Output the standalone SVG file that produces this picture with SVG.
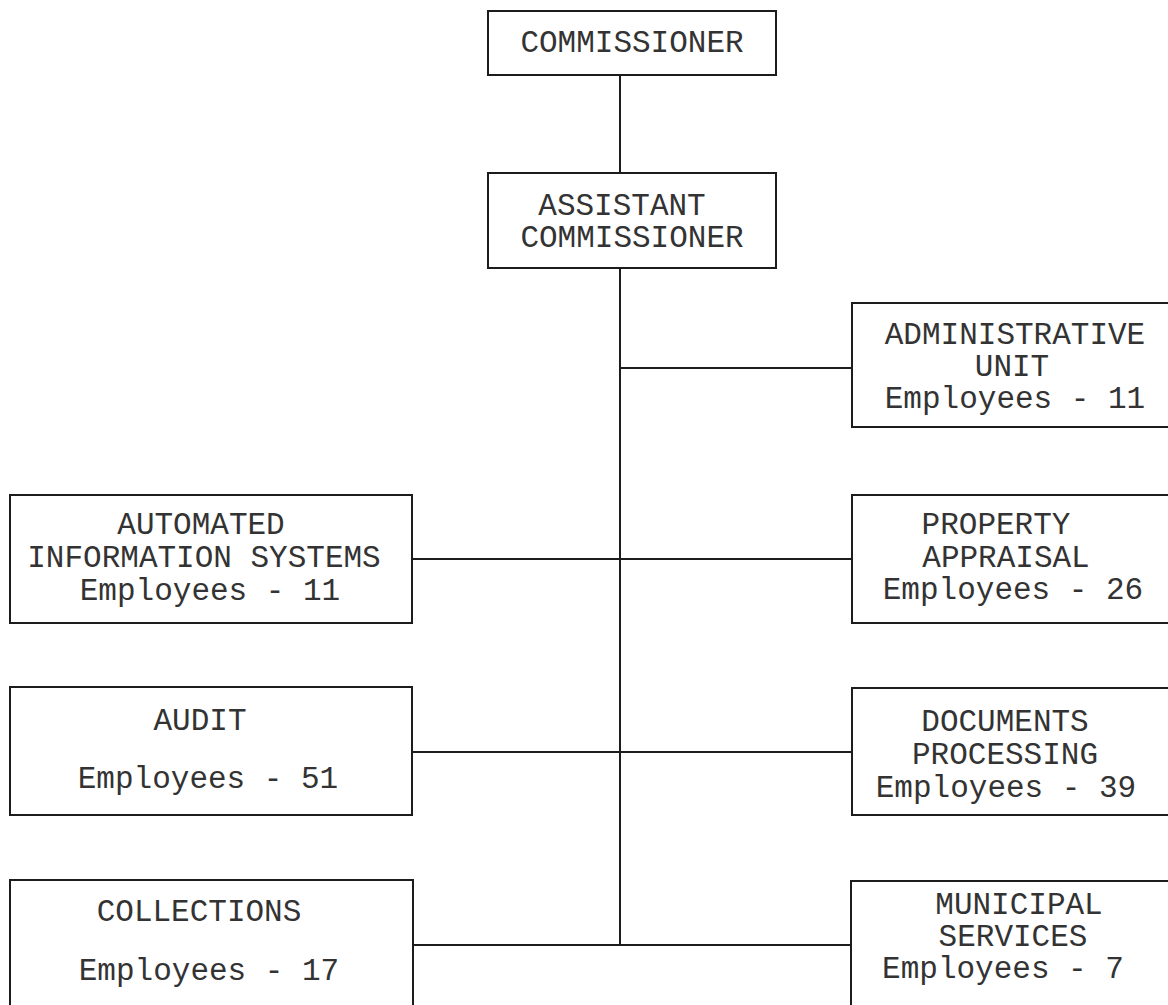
<svg xmlns="http://www.w3.org/2000/svg" width="1168" height="1005" viewBox="0 0 1168 1005">
<style>
.box{fill:#ffffff;stroke:#1c1c1c;stroke-width:2}
.ln{stroke:#1c1c1c;stroke-width:2;fill:none}
text{font-family:"Liberation Mono","DejaVu Sans Mono",monospace;font-size:31px;fill:#333333;text-anchor:middle}
</style>
<rect x="0" y="0" width="1168" height="1005" fill="#ffffff"/>
<g id="connectors">
<line class="ln" x1="620" y1="75" x2="620" y2="173"/>
<line class="ln" x1="620" y1="268" x2="620" y2="945"/>
<line class="ln" x1="620" y1="368" x2="852" y2="368"/>
<line class="ln" x1="412" y1="559" x2="852" y2="559"/>
<line class="ln" x1="412" y1="752" x2="852" y2="752"/>
<line class="ln" x1="413" y1="945" x2="851" y2="945"/>
</g>
<g id="commissioner">
<rect class="box" x="488" y="11" width="288" height="64"/>
<text x="632" y="52">COMMISSIONER</text>
</g>
<g id="assistant-commissioner">
<rect class="box" x="488" y="173" width="288" height="95"/>
<text x="622" y="215">ASSISTANT</text>
<text x="632" y="247">COMMISSIONER</text>
</g>
<g id="administrative-unit">
<rect class="box" x="852" y="303" width="326" height="124"/>
<text x="1015" y="344">ADMINISTRATIVE</text>
<text x="1012" y="376">UNIT</text>
<text x="1015" y="408">Employees - 11</text>
</g>
<g id="automated-information-systems">
<rect class="box" x="10" y="495" width="402" height="128"/>
<text x="201" y="534">AUTOMATED</text>
<text x="204" y="567">INFORMATION SYSTEMS</text>
<text x="210" y="600">Employees - 11</text>
</g>
<g id="property-appraisal">
<rect class="box" x="852" y="495" width="326" height="128"/>
<text x="996" y="534">PROPERTY</text>
<text x="1006" y="567">APPRAISAL</text>
<text x="1013" y="599">Employees - 26</text>
</g>
<g id="audit">
<rect class="box" x="10" y="687" width="402" height="128"/>
<text x="200" y="730">AUDIT</text>
<text x="208" y="788">Employees - 51</text>
</g>
<g id="documents-processing">
<rect class="box" x="852" y="688" width="326" height="127"/>
<text x="1005" y="731">DOCUMENTS</text>
<text x="1005" y="764">PROCESSING</text>
<text x="1006" y="797">Employees - 39</text>
</g>
<g id="collections">
<rect class="box" x="10" y="880" width="403" height="130"/>
<text x="199" y="921">COLLECTIONS</text>
<text x="209" y="980">Employees - 17</text>
</g>
<g id="municipal-services">
<rect class="box" x="851" y="881" width="327" height="130"/>
<text x="1019" y="914">MUNICIPAL</text>
<text x="1013" y="946">SERVICES</text>
<text x="1003" y="978">Employees - 7</text>
</g>
</svg>
